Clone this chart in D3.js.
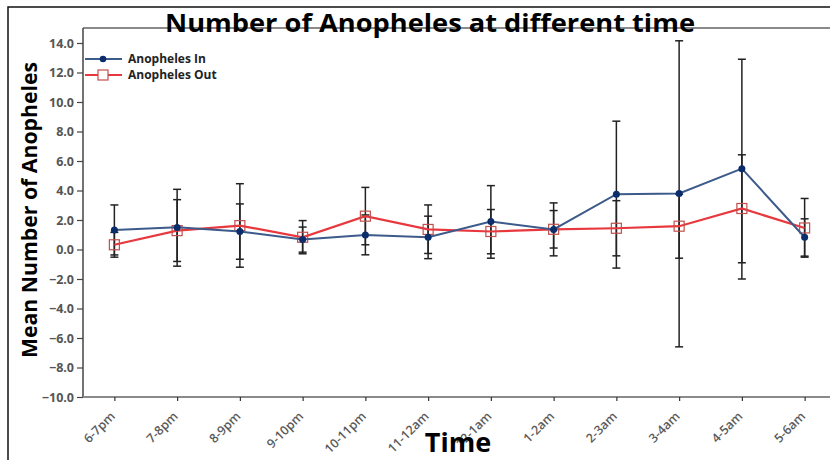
<!DOCTYPE html>
<html>
<head>
<meta charset="utf-8">
<script src="https://cdn.jsdelivr.net/npm/d3@7"></script>
<style>
  body { margin:0; background:#fff; }
  svg text { font-family: "Open Sans", "DejaVu Sans", sans-serif; }
</style>
</head>
<body>
<div id="chart"></div>
<script>
// time slots
var slots = ["6-7pm","7-8pm","8-9pm","9-10pm","10-11pm","11-12am","12-1am","1-2am","2-3am","3-4am","4-5am","5-6am"];
// Anopheles In: mean and error bar ends
var inMean = [1.33,1.50,1.22,0.68,0.99,0.83,1.89,1.36,3.75,3.80,5.48,0.83];
var inLow  = [-0.37,-1.13,-0.66,-0.18,-0.36,-0.62,-0.59,-0.43,-1.26,-6.60,-2.00,-0.45];
var inHigh = [3.02,4.08,3.09,1.52,2.34,2.26,4.33,3.16,8.70,14.15,12.90,2.08];
// Anopheles Out
var outMean = [0.32,1.28,1.62,0.83,2.26,1.36,1.22,1.37,1.44,1.58,2.78,1.46];
var outLow  = [-0.52,-0.81,-1.20,-0.29,0.32,-0.27,-0.29,0.10,-0.43,-0.59,-0.90,-0.52];
var outHigh = [1.16,3.38,4.46,1.96,4.21,3.02,2.71,2.64,3.31,3.75,6.42,3.46];
var yTicks = [-10,-8,-6,-4,-2,0,2,4,6,8,10,12,14];

var width = 830, height = 460;
var svg = d3.select("#chart").append("svg").attr("width",width).attr("height",height);

// outer border of the picture
svg.append("rect").attr("x",8).attr("y",7).attr("width",width).attr("height",height)
  .attr("fill","none").attr("stroke","#111").attr("stroke-width",1.5);

var xs = d3.scalePoint().domain(slots).range([83,836]).padding(0.5);
var ys = d3.scaleLinear().domain([-10,14]).range([397,43]);

// plot frame (top line + left axis + bottom axis)
svg.append("line").attr("x1",83).attr("x2",width).attr("y1",28).attr("y2",28)
  .attr("stroke","#8a8a8a").attr("stroke-width",2);
svg.append("line").attr("x1",83).attr("x2",83).attr("y1",28).attr("y2",ys(-10))
  .attr("stroke","#444").attr("stroke-width",1.5);

var yAxis = svg.append("g").attr("transform","translate(83,0)")
  .call(d3.axisLeft(ys).tickValues(yTicks).tickFormat(d3.format(".1f")).tickSize(6).tickPadding(3));
yAxis.select(".domain").remove();
yAxis.selectAll("line").attr("stroke","#444").attr("stroke-width",1.2);
yAxis.selectAll("text").attr("fill","#555").attr("font-size","12.5px").attr("font-weight","bold");

var xAxis = svg.append("g").attr("transform","translate(0,"+ys(-10)+")")
  .call(d3.axisBottom(xs).tickSize(4).tickSizeOuter(0));
xAxis.select(".domain").attr("stroke","#8a8a8a").attr("stroke-width",2).attr("d","M83,0H"+width);
xAxis.selectAll("line").attr("stroke","#333").attr("stroke-width",1.2);
xAxis.selectAll("text").attr("fill","#5a5a5a").attr("font-size","12.5px").attr("font-weight","600")
  .attr("text-anchor","end").attr("dy",0).attr("dx",0)
  .attr("transform","translate(-4,15) rotate(-45)");

// error bars
function errorBars(lo, hi){
  var g = svg.append("g").attr("stroke","#222").attr("stroke-width",1.5);
  slots.forEach(function(s,i){
    var x = xs(s);
    g.append("line").attr("x1",x).attr("x2",x).attr("y1",ys(lo[i])).attr("y2",ys(hi[i]));
    [lo[i],hi[i]].forEach(function(v){
      g.append("line").attr("x1",x-4).attr("x2",x+4).attr("y1",ys(v)).attr("y2",ys(v));
    });
  });
}
errorBars(inLow,inHigh);
errorBars(outLow,outHigh);

var line = d3.line().x(function(d,i){return xs(slots[i]);}).y(function(d){return ys(d);});

svg.append("path").datum(outMean).attr("d",line).attr("fill","none")
  .attr("stroke","#e8383d").attr("stroke-width",2.2);
svg.selectAll("rect.out").data(outMean).enter().append("rect").attr("class","out")
  .attr("x",function(d,i){return xs(slots[i])-5;}).attr("y",function(d){return ys(d)-5;})
  .attr("width",10).attr("height",10).attr("fill","none").attr("stroke","#c0504d").attr("stroke-width",1.2);

svg.append("path").datum(inMean).attr("d",line).attr("fill","none")
  .attr("stroke","#3c5a8a").attr("stroke-width",2);
svg.selectAll("circle.in").data(inMean).enter().append("circle").attr("class","in")
  .attr("cx",function(d,i){return xs(slots[i]);}).attr("cy",function(d){return ys(d);})
  .attr("r",3.5).attr("fill","#0b2d6b");

// legend
var lg = svg.append("g");
lg.append("line").attr("x1",85).attr("x2",122).attr("y1",59).attr("y2",59).attr("stroke","#3c5a8a").attr("stroke-width",2);
lg.append("circle").attr("cx",103).attr("cy",59).attr("r",3.3).attr("fill","#0b2d6b");
lg.append("line").attr("x1",85).attr("x2",122).attr("y1",75).attr("y2",75).attr("stroke","#e8383d").attr("stroke-width",2);
lg.append("rect").attr("x",98).attr("y",70).attr("width",10).attr("height",10).attr("fill","#fff").attr("stroke","#c0504d").attr("stroke-width",1.2);
lg.append("text").attr("x",128).attr("y",63).text("Anopheles In").attr("font-size","12px").attr("font-weight","bold").attr("fill","#222");
lg.append("text").attr("x",128).attr("y",79).text("Anopheles Out").attr("font-size","12px").attr("font-weight","bold").attr("fill","#222");

// titles
svg.append("text").attr("x",430).attr("y",32).attr("text-anchor","middle")
  .attr("font-size","25px").attr("font-weight","bold").attr("fill","#000")
  .attr("textLength",530).attr("lengthAdjust","spacingAndGlyphs")
  .text("Number of Anopheles at different time");
svg.append("text").attr("x",458).attr("y",452).attr("text-anchor","middle")
  .attr("font-size","27px").attr("font-weight","bold").attr("fill","#000").text("Time");
svg.append("text").attr("transform","translate(37,210) rotate(-90)").attr("text-anchor","middle")
  .attr("font-size","22px").attr("font-weight","bold").attr("fill","#000")
  .attr("textLength",296).attr("lengthAdjust","spacingAndGlyphs")
  .text("Mean Number of Anopheles");
</script>
</body>
</html>
